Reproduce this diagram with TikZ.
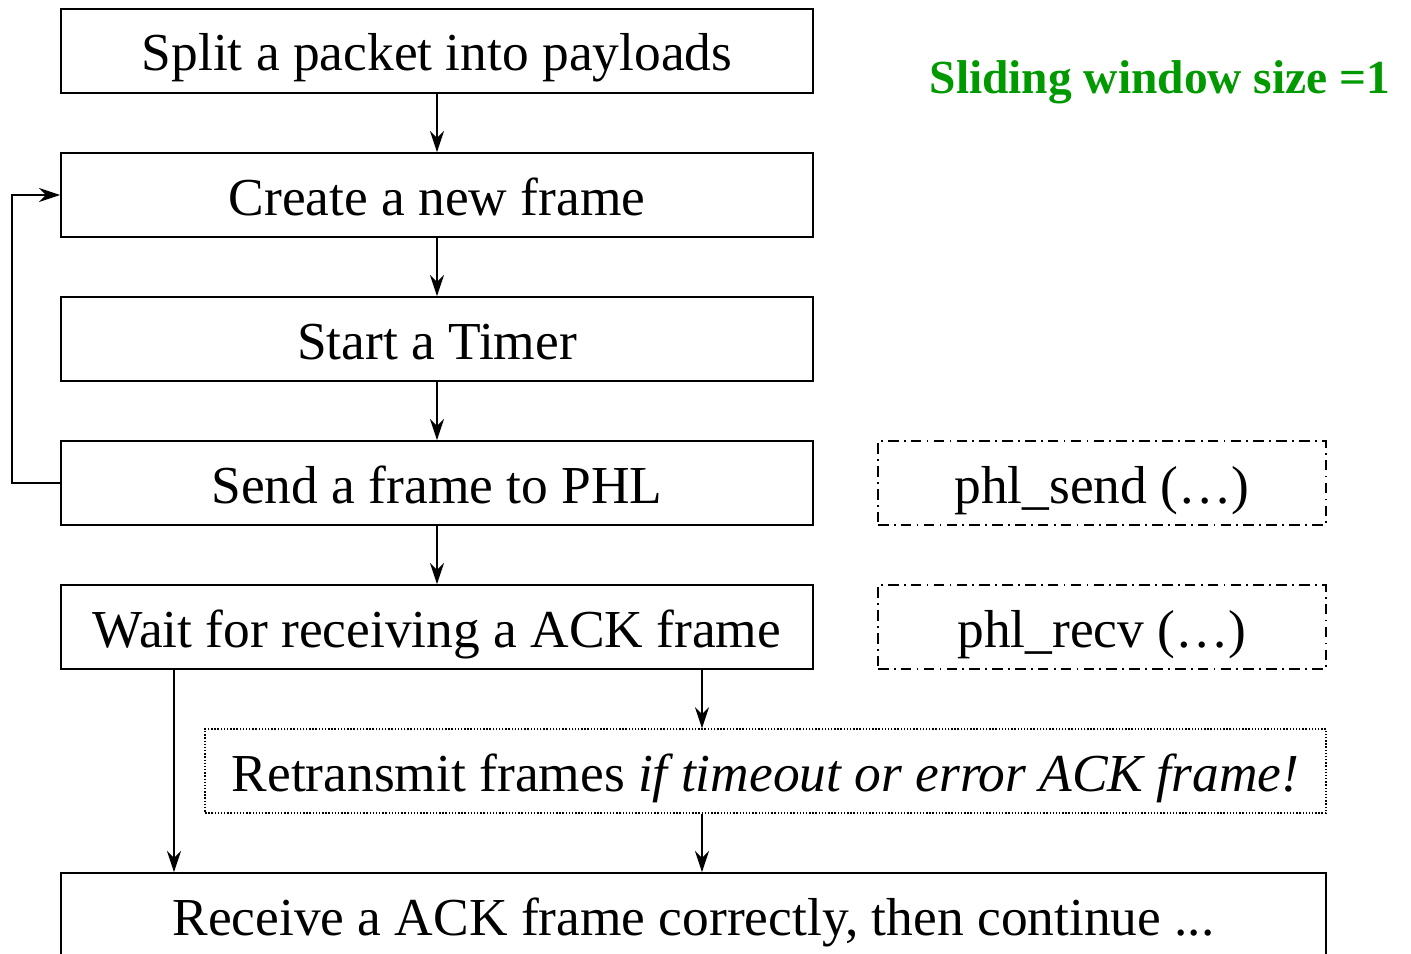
\documentclass[tikz,border=0pt]{standalone}
\usepackage{fontspec}
\setmainfont{Liberation Serif}
\usetikzlibrary{arrows.meta, positioning, calc}
\usepackage{xcolor}
\definecolor{slidegreen}{RGB}{0,153,0}

\begin{document}
\begin{tikzpicture}[x=0.02cm, y=-0.02cm, >={Stealth[length=12pt,width=8pt]},
  stepbox/.style={draw, line width=1.1pt, minimum width=15.04cm, minimum height=1.68cm, inner sep=0pt, text height=0.8cm, text depth=0pt, font=\fontsize{30.4}{36}\selectfont},
  callbox/.style={draw, line width=1pt, dash pattern=on 6pt off 3pt on 1pt off 3pt, minimum width=8.96cm, minimum height=1.68cm, inner sep=0pt, text height=0.8cm, text depth=0pt, font=\fontsize{30.4}{36}\selectfont},
  flow/.style={->, line width=1.1pt}]
  \useasboundingbox (0,0) rectangle (1411,954);
  \node[stepbox] (split) at (437,51) {Split a packet into payloads};
  \node[stepbox] (create) at (437,195) {Create a new frame};
  \node[stepbox] (timer) at (437,339) {Start a Timer};
  \node[stepbox] (send) at (437,483) {Send a frame to PHL};
  \node[stepbox] (wait) at (437,627) {Wait for receiving a ACK frame};
  \node[callbox] (sendfn) at (1102,483) {phl\_send (\dots)};
  \node[callbox] (recvfn) at (1102,627) {phl\_recv (\dots)};
  \node[draw, line width=0.8pt, densely dotted, minimum width=22.42cm, minimum height=1.68cm, inner sep=0pt, text height=0.8cm, text depth=0pt, font=\fontsize{30.4}{36}\selectfont] (retx) at (765.5,771) {Retransmit frames \textit{if timeout or error ACK frame!}};
  \node[stepbox, minimum width=25.3cm] (recv) at (693.5,915) {Receive a ACK frame correctly, then continue ...};
  \node[text=slidegreen, font=\bfseries\fontsize{27}{32}\selectfont] (note) at (1160,82) {Sliding window size =1};
  % main flow
  \draw[flow] (split) -- (create);
  \draw[flow] (create) -- (timer);
  \draw[flow] (timer) -- (send);
  \draw[flow] (send) -- (wait);
  \draw[flow] (send.west) -- ++(-48,0) |- (create.west);
  \draw[flow] (wait.south -| 702,0) -- (retx.north -| 702,0);
  \draw[flow] (retx.south -| 702,0) -- (recv.north -| 702,0);
  \draw[flow] (wait.south -| 174,0) -- (recv.north -| 174,0);
\end{tikzpicture}
\end{document}
